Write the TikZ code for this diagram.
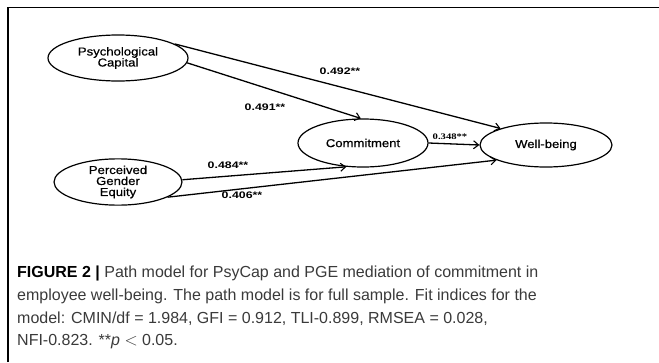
\documentclass[tikz,border=0pt]{standalone}
\usepackage{fontspec}
\usepackage{graphicx}
\setmainfont{Liberation Sans}
\newfontfamily\nodefont[FakeStretch=1.14,FakeBold=0.6]{Liberation Sans}
\newfontfamily\serlbl{Liberation Serif}
\newfontfamily\capfont{Liberation Sans}
\usetikzlibrary{shapes.geometric,arrows.meta}
\definecolor{captxt}{HTML}{3A3A3A}
\newcommand{\wide}[1]{\scalebox{1.3}[1]{#1}}
\newcommand{\wides}[1]{\scalebox{1.25}[1]{#1}}
\tikzset{
  latent/.style={ellipse,draw,line width=1.2pt,inner sep=0pt,align=center,font=\nodefont\fontsize{11.5}{11}\selectfont},
  path/.style={line width=1.3pt,-{Straight Barb[length=5pt,width=8pt,line width=1.1pt]}},
  coef/.style={font=\bfseries\fontsize{9.5}{10}\selectfont,inner sep=0pt},
  coefser/.style={font=\serlbl\bfseries\fontsize{8.5}{9}\selectfont,inner sep=0pt},
}
\begin{document}
\begin{tikzpicture}[x=1pt,y=-1pt]
\useasboundingbox (0,0) rectangle (659,362);
\draw[line width=1.4pt] (8,362) -- (8,7.5) -- (659,7.5);
\node[latent,minimum width=140pt,minimum height=46pt] (psy) at (118,58) {Psychological\\Capital};
\node[latent,minimum width=128pt,minimum height=42pt] (pge) at (118,182) {Perceived\\Gender\\Equity};
\node[latent,minimum width=130pt,minimum height=48pt] (com) at (363,143) {Commitment};
\node[latent,minimum width=132pt,minimum height=44pt] (wb) at (546,145) {Well-being};
\draw[path] (psy.14) -- (wb.160);
\draw[path] (psy.356) -- (com.95);
\draw[path] (pge.2) -- (com.235);
\draw[path] (pge.343) -- (wb.197);
\draw[path] (com.east) -- (wb.west);
\node[coef] (l492) at (340,71) {\wide{0.492**}};
\node[coef] (l491) at (265,107) {\wide{0.491**}};
\node[coef] (l484) at (228,165) {\wide{0.484**}};
\node[coef] (l406) at (242,195) {\wide{0.406**}};
\node[coefser] (l348) at (450,137) {\wides{0.348**}};
\node[anchor=north west,inner sep=0pt,align=left,text=captxt,font=\capfont\fontsize{16}{22.7}\selectfont] (cap) at (17,266)
{{\color{black}\bfseries FIGURE 2 |} Path model for PsyCap and PGE mediation of commitment in\\
employee well-being. The path model is for full sample. Fit indices for the\\
model: CMIN/df = 1.984, GFI = 0.912, TLI-0.899, RMSEA = 0.028,\\
NFI-0.823. **\textit{p} $<$ 0.05.};
\end{tikzpicture}
\end{document}
